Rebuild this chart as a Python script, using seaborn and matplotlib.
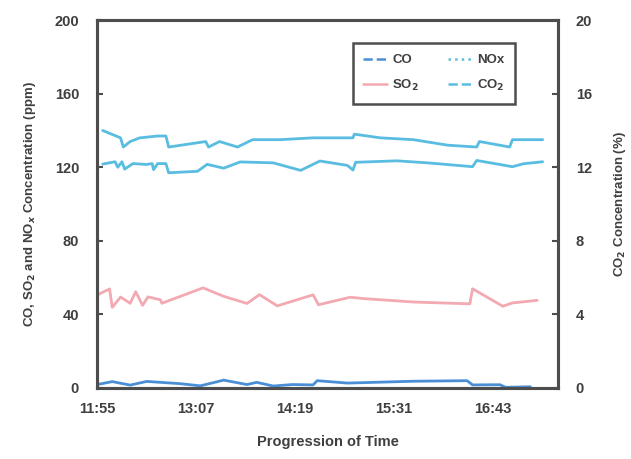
import matplotlib
matplotlib.use("Agg")
import matplotlib.pyplot as plt
import seaborn as sns
import pandas as pd
from matplotlib.lines import Line2D

# ---- data ----
co_time = ["11:55", "12:06", "12:19", "12:31", "12:55", "13:10", "13:27", "13:44", "13:51", "14:03",
           "14:17", "14:32", "14:35", "14:57", "15:45", "16:24", "16:28", "16:48", "16:52", "17:10"]
co_ppm = [1.8, 3.4, 1.5, 3.5, 2.3, 1.1, 4.2, 1.8, 3.0, 1.0,
          1.8, 1.6, 3.9, 2.6, 3.6, 3.9, 1.6, 1.7, 0.3, 0.6]

nox_time = ["11:59", "12:08", "12:10", "12:13", "12:15", "12:21", "12:31", "12:35", "12:36", "12:39",
            "12:45", "12:47", "13:08", "13:15", "13:27", "13:39", "14:03", "14:23", "14:37", "14:57",
            "15:01", "15:03", "15:33", "15:57", "16:28", "16:31", "16:57", "17:05", "17:19"]
nox_ppm = [121.7, 123.0, 120.0, 123.0, 119.0, 122.0, 121.5, 122.0, 118.7, 122.0,
           122.0, 117.0, 117.8, 121.6, 119.5, 122.9, 122.4, 118.3, 123.4, 121.0,
           118.5, 122.7, 123.5, 122.3, 120.3, 123.7, 120.3, 121.9, 123.0]

so2_time = ["11:56", "12:04", "12:06", "12:12", "12:19", "12:23", "12:28", "12:32", "12:41", "12:42",
            "13:12", "13:27", "13:44", "13:53", "14:06", "14:32", "14:36", "14:59", "15:08", "15:45",
            "16:26", "16:28", "16:50", "16:57", "17:15"]
so2_ppm = [50.9, 53.8, 43.8, 49.4, 46.0, 52.3, 44.9, 49.5, 47.9, 46.0,
           54.4, 49.8, 45.9, 50.7, 44.6, 50.6, 45.2, 49.3, 48.6, 46.7,
           45.7, 53.9, 44.4, 46.2, 47.6]

co2_time = ["11:59", "12:12", "12:14", "12:19", "12:26", "12:39", "12:45", "12:47", "13:14", "13:16",
            "13:24", "13:37", "13:48", "14:08", "14:32", "15:01", "15:02", "15:21", "15:45", "16:10",
            "16:31", "16:33", "16:55", "16:57", "17:19"]
co2_pct = [14.0, 13.6, 13.1, 13.4, 13.6, 13.7, 13.7, 13.1, 13.4, 13.1,
           13.4, 13.1, 13.5, 13.5, 13.6, 13.6, 13.8, 13.6, 13.5, 13.2,
           13.1, 13.4, 13.1, 13.5, 13.5]

x_tick_labels = ["11:55", "13:07", "14:19", "15:31", "16:43"]
left_ticks = [0, 40, 80, 120, 160, 200]
right_ticks = [0, 4, 8, 12, 16, 20]


def to_min(t):
    h, m = t.split(":")
    return int(h) * 60 + int(m)


def frame(times, values):
    return pd.DataFrame({"t": [to_min(t) for t in times], "v": values})


sns.set_style("white")
plt.rcParams["font.family"] = ["Liberation Sans", "DejaVu Sans"]
plt.rcParams["font.weight"] = "bold"

txt = "#3f3f3f"
edge = "#4d4d4d"
c_co = "#4a8fd6"
c_nox = "#58bde0"
c_so2 = "#f2a9b1"
c_co2 = "#58bde0"

fig = plt.figure(figsize=(6.31, 4.59), dpi=100)
ax = fig.add_axes([0.154, 0.155, 0.730, 0.801])
ax2 = ax.twinx()

sns.lineplot(data=frame(co_time, co_ppm), x="t", y="v", ax=ax, color=c_co, lw=2.0, legend=False)
sns.lineplot(data=frame(nox_time, nox_ppm), x="t", y="v", ax=ax, color=c_nox, lw=2.0, legend=False)
sns.lineplot(data=frame(so2_time, so2_ppm), x="t", y="v", ax=ax, color=c_so2, lw=2.0, legend=False)
sns.lineplot(data=frame(co2_time, co2_pct), x="t", y="v", ax=ax2, color=c_co2, lw=2.0, legend=False)

xt = [to_min(t) for t in x_tick_labels]
ax.set_xlim(to_min("11:55"), to_min("17:30"))
ax.set_xticks(xt)
ax.set_xticklabels(x_tick_labels)
ax.set_ylim(0, 200)
ax.set_yticks(left_ticks)
ax2.set_ylim(0, 20)
ax2.set_yticks(right_ticks)

for a in (ax, ax2):
    for s in a.spines.values():
        s.set_color(edge)
        s.set_linewidth(2.2)
    a.tick_params(axis="both", direction="in", length=4, width=1.5, color=edge,
                  labelsize=10.5, labelcolor=txt, pad=13)

ax.tick_params(axis="y", left=True, right=False)
ax2.tick_params(axis="y", right=True, left=False)
ax.tick_params(axis="x", bottom=False, pad=10)

ax.set_xlabel("Progression of Time", fontsize=10.5, fontweight="bold", color=txt, labelpad=14)
ax.set_ylabel("CO, SO$_2$ and NO$_x$ Concentration (ppm)", fontsize=9.5, fontweight="bold",
              color=txt, labelpad=12)
ax2.set_ylabel("CO$_2$ Concentration (%)", fontsize=9.5, fontweight="bold", color=txt, labelpad=14)

handles = [
    Line2D([], [], color=c_co, lw=1.8, ls="--"),
    Line2D([], [], color=c_so2, lw=1.8),
    Line2D([], [], color=c_nox, lw=1.8, ls=":"),
    Line2D([], [], color=c_co2, lw=1.8, ls="--"),
]
labels = ["CO", "SO$_2$", "NOx", "CO$_2$"]
leg = ax.legend(handles, labels, ncol=2, loc="upper left", bbox_to_anchor=(0.54, 0.955),
                frameon=True, fancybox=False, fontsize=9.5, handlelength=1.8, handletextpad=0.4,
                columnspacing=2.2, labelspacing=0.9, borderpad=0.8)
leg.get_frame().set_edgecolor("#222222")
leg.get_frame().set_linewidth(1.8)
for t in leg.get_texts():
    t.set_color(txt)
    t.set_fontweight("bold")

fig.savefig("out.png", dpi=100, facecolor="white")
